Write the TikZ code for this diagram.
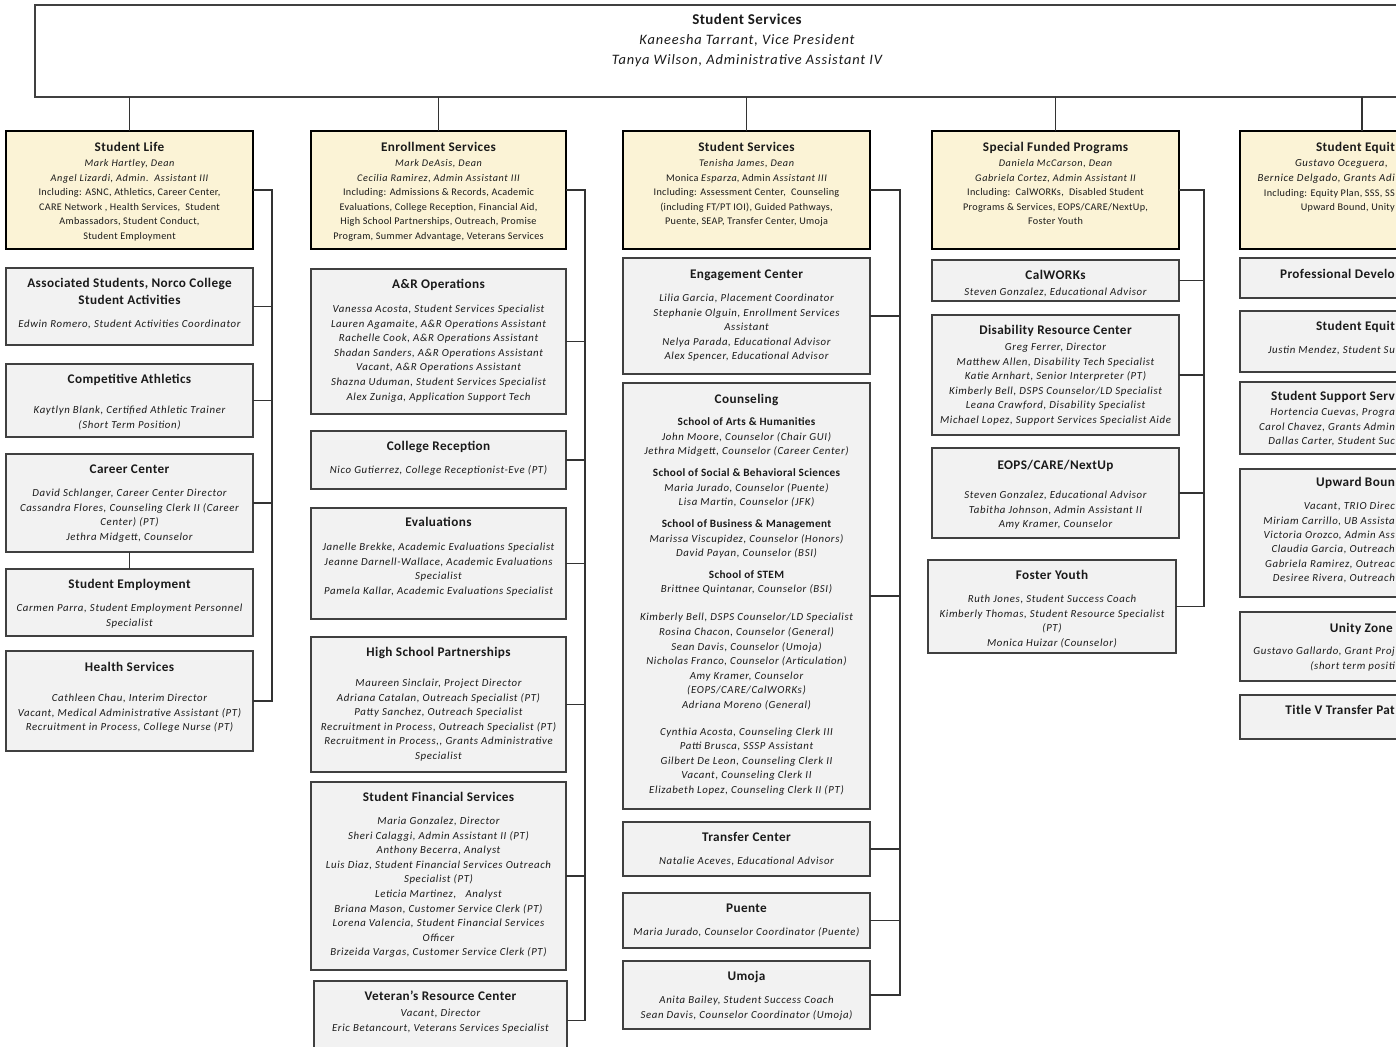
\documentclass[tikz,border=0pt]{standalone}
\usepackage{fontspec}
\setmainfont[LetterSpace=3]{Carlito}
\newfontfamily\lsi[LetterSpace=6]{Carlito}
\usetikzlibrary{calc}
\definecolor{hdrfill}{HTML}{FBF3D6}
\definecolor{subfill}{HTML}{F2F2F2}
\definecolor{txt}{HTML}{1A1A1A}
\definecolor{edge}{HTML}{404040}
\newcommand\ii{\lsi\itshape}
\newcommand\sh{\rmfamily\upshape\bfseries\fontsize{11.2}{14.6}\selectfont}
\newcommand\bx[6]{\node[#6, anchor=north west, minimum width={(#4)-(#2)}, minimum height={(#5)-(#3)}] (#1) at (#2,#3) {};}
\newcommand\tx[5]{\node[#4] (#1) at (#2,{#3+3.5}) {\begin{tabular}[t]{@{}c@{}}#5\end{tabular}};}
\newcommand\tl[5]{\node[#4] (#1) at (#2,{#3+3.5}) {#5};}
\begin{document}
\begin{tikzpicture}[x=1pt,y=-1pt,
  hdr/.style={draw=black, line width=1.4pt, fill=hdrfill, inner sep=0, outer sep=0},
  sub/.style={draw=edge, line width=1.1pt, fill=subfill, inner sep=0, outer sep=0},
  topbox/.style={draw=edge, line width=1.1pt, fill=white, inner sep=0, outer sep=0},
  conn/.style={draw=black!80, line width=1.1pt},
  ttl/.style={font=\fontsize{13.2}{14.6}\selectfont\bfseries, anchor=base, inner sep=0, text=txt},
  ttlb/.style={font=\fontsize{13.2}{17}\selectfont\bfseries, anchor=base, inner sep=0, text=txt},
  bdy/.style={font=\ii\fontsize{10.8}{14.6}\selectfont, anchor=base, inner sep=0, text=txt},
  hbdy/.style={font=\fontsize{10.2}{14.6}\selectfont, anchor=base, inner sep=0, text=txt},
  cutt/.style={font=\fontsize{13.2}{14.6}\selectfont\bfseries, anchor=base east, inner sep=0, text=txt},
  cuti/.style={font=\ii\fontsize{10.8}{14.6}\selectfont, anchor=base east, inner sep=0, text=txt},
  cutr/.style={font=\fontsize{10.2}{14.6}\selectfont, anchor=base east, inner sep=0, text=txt},
  vptl/.style={font=\fontsize{15}{20}\selectfont\bfseries, anchor=base, inner sep=0, text=txt},
  vpbd/.style={font=\ii\fontsize{14.4}{20}\selectfont, anchor=base, inner sep=0, text=txt}
]
\useasboundingbox (0,0) rectangle (1396,1046);
\fill[white] (0,0) rectangle (1396,1046);
\clip (0,0) rectangle (1396,1046);

% ---------- top box ----------
\bx{vp}{35}{5}{1459}{97}{topbox}
\tx{vp-t}{747}{21}{vptl}{Student Services}
\tx{vp-b}{747}{41}{vpbd}{Kaneesha Tarrant, Vice President\\Tanya Wilson, Administrative Assistant IV}

% ---------- column 1 ----------
\bx{sl}{6}{131}{253}{249}{hdr}
\tx{sl-t}{129.5}{148}{ttl}{Student Life}
\tx{sl-b}{129.5}{163}{hbdy}{{\ii Mark Hartley, Dean}\\{\ii Angel Lizardi, Admin.\ \ Assistant III}\\Including: ASNC, Athletics, Career Center,\\CARE Network , Health Services,\ \ Student\\Ambassadors, Student Conduct,\\Student Employment}

\bx{as}{6}{268}{253}{345}{sub}
\tx{as-t}{129.5}{284}{ttlb}{Associated Students, Norco College\\Student Activities}
\tx{as-b}{129.5}{324}{bdy}{Edwin Romero, Student Activities Coordinator}

\bx{ca}{6}{364}{253}{437}{sub}
\tx{ca-t}{129.5}{380}{ttl}{Competitive Athletics}
\tx{ca-b}{129.5}{410}{bdy}{Kaytlyn Blank, Certified Athletic Trainer\\(Short Term Position)}

\bx{cc}{6}{454}{253}{552}{sub}
\tx{cc-t}{129.5}{470}{ttl}{Career Center}
\tx{cc-b}{129.5}{493}{bdy}{David Schlanger, Career Center Director\\Cassandra Flores, Counseling Clerk II (Career\\Center) (PT)\\Jethra Midgett, Counselor}

\bx{se}{6}{569}{253}{636}{sub}
\tx{se-t}{129.5}{585}{ttl}{Student Employment}
\tx{se-b}{129.5}{608}{bdy}{Carmen Parra, Student Employment Personnel\\Specialist}

\bx{hs}{6}{651}{253}{751}{sub}
\tx{hs-t}{129.5}{668}{ttl}{Health Services}
\tx{hs-b}{129.5}{698}{bdy}{Cathleen Chau, Interim Director\\Vacant, Medical Administrative Assistant (PT)\\Recruitment in Process, College Nurse (PT)}

% ---------- column 2 ----------
\bx{es}{311}{131}{566}{249}{hdr}
\tx{es-t}{438.5}{148}{ttl}{Enrollment Services}
\tx{es-b}{438.5}{163}{hbdy}{{\ii Mark DeAsis, Dean}\\{\ii Cecilia Ramirez, Admin Assistant III}\\Including: Admissions \& Records, Academic\\Evaluations, College Reception, Financial Aid,\\High School Partnerships, Outreach, Promise\\Program, Summer Advantage, Veterans Services}

\bx{ar}{311}{269}{566}{414}{sub}
\tx{ar-t}{438.5}{285}{ttl}{A\&R Operations}
\tx{ar-b}{438.5}{309}{bdy}{Vanessa Acosta, Student Services Specialist\\Lauren Agamaite, A\&R Operations Assistant\\Rachelle Cook, A\&R Operations Assistant\\Shadan Sanders, A\&R Operations Assistant\\Vacant, A\&R Operations Assistant\\Shazna Uduman, Student Services Specialist\\Alex Zuniga, Application Support Tech}

\bx{cr}{311}{431}{566}{489}{sub}
\tx{cr-t}{438.5}{447}{ttl}{College Reception}
\tx{cr-b}{438.5}{470}{bdy}{Nico Gutierrez, College Receptionist-Eve (PT)}

\bx{ev}{311}{508}{566}{619}{sub}
\tx{ev-t}{438.5}{523}{ttl}{Evaluations}
\tx{ev-b}{438.5}{547}{bdy}{Janelle Brekke, Academic Evaluations Specialist\\Jeanne Darnell-Wallace, Academic Evaluations\\Specialist\\Pamela Kallar, Academic Evaluations Specialist}

\bx{hp}{311}{637}{566}{772}{sub}
\tx{hp-t}{438.5}{653}{ttl}{High School Partnerships}
\tx{hp-b}{438.5}{683}{bdy}{Maureen Sinclair, Project Director\\Adriana Catalan, Outreach Specialist (PT)\\Patty Sanchez, Outreach Specialist\\Recruitment in Process, Outreach Specialist (PT)\\Recruitment in Process,, Grants Administrative\\Specialist}

\bx{fs}{311}{782}{566}{970}{sub}
\tx{fs-t}{438.5}{798}{ttl}{Student Financial Services}
\tx{fs-b}{438.5}{821}{bdy}{Maria Gonzalez, Director\\Sheri Calaggi, Admin Assistant II (PT)\\Anthony Becerra, Analyst\\Luis Diaz, Student Financial Services Outreach\\Specialist (PT)\\Leticia Martinez,\ \ \ Analyst\\Briana Mason, Customer Service Clerk (PT)\\Lorena Valencia, Student Financial Services\\Officer\\Brizeida Vargas, Customer Service Clerk (PT)}

\bx{vr}{314}{981}{567}{1060}{sub}
\tx{vr-t}{440.5}{997}{ttl}{Veteran’s Resource Center}
\tx{vr-b}{440.5}{1013}{bdy}{Vacant, Director\\Eric Betancourt, Veterans Services Specialist}

% ---------- column 3 ----------
\bx{ss}{623}{131}{870}{249}{hdr}
\tx{ss-t}{746.5}{148}{ttl}{Student Services}
\tx{ss-b}{746.5}{163}{hbdy}{{\ii Tenisha James, Dean}\\Monica {\ii Esparza}, Admin {\ii Assistant III}\\Including: Assessment Center,\ \ Counseling\\(including FT/PT IOI), Guided Pathways,\\Puente, SEAP, Transfer Center, Umoja}

\bx{ec}{623}{258}{870}{374}{sub}
\tx{ec-t}{746.5}{275}{ttl}{Engagement Center}
\tx{ec-b}{746.5}{298}{bdy}{Lilia Garcia, Placement Coordinator\\Stephanie Olguin, Enrollment Services\\Assistant\\Nelya Parada, Educational Advisor\\Alex Spencer, Educational Advisor}

\bx{co}{623}{383}{870}{809}{sub}
\tx{co-t}{746.5}{400}{ttl}{Counseling}
\tx{co-b}{746.5}{422}{bdy}{{\sh School of Arts \& Humanities}\\John Moore, Counselor (Chair GUI)\\Jethra Midgett, Counselor (Career Center)\\[7.4pt]{\sh School of Social \& Behavioral Sciences}\\Maria Jurado, Counselor (Puente)\\Lisa Martin, Counselor (JFK)\\[7pt]{\sh School of Business \& Management}\\Marissa Viscupidez, Counselor (Honors)\\David Payan, Counselor (BSI)\\[7pt]{\sh School of STEM}\\Brittnee Quintanar, Counselor (BSI)\\[13.4pt]Kimberly Bell, DSPS Counselor/LD Specialist\\Rosina Chacon, Counselor (General)\\Sean Davis, Counselor (Umoja)\\Nicholas Franco, Counselor (Articulation)\\Amy Kramer, Counselor\\(EOPS/CARE/CalWORKs)\\Adriana Moreno (General)\\[12pt]Cynthia Acosta, Counseling Clerk III\\Patti Brusca, SSSP Assistant\\Gilbert De Leon, Counseling Clerk II\\Vacant, Counseling Clerk II\\Elizabeth Lopez, Counseling Clerk II (PT)}

\bx{tc}{623}{822}{870}{876}{sub}
\tx{tc-t}{746.5}{838}{ttl}{Transfer Center}
\tx{tc-b}{746.5}{861}{bdy}{Natalie Aceves, Educational Advisor}

\bx{pu}{623}{893}{870}{948}{sub}
\tx{pu-t}{746.5}{909}{ttl}{Puente}
\tx{pu-b}{746.5}{932}{bdy}{Maria Jurado, Counselor Coordinator (Puente)}

\bx{um}{623}{961}{870}{1029}{sub}
\tx{um-t}{746.5}{977}{ttl}{Umoja}
\tx{um-b}{746.5}{1000}{bdy}{Anita Bailey, Student Success Coach\\Sean Davis, Counselor Coordinator (Umoja)}

% ---------- column 4 ----------
\bx{sf}{932}{131}{1179}{249}{hdr}
\tx{sf-t}{1055.5}{148}{ttl}{Special Funded Programs}
\tx{sf-b}{1055.5}{163}{hbdy}{{\ii Daniela McCarson, Dean}\\{\ii Gabriela Cortez, Admin Assistant II}\\Including:\ \ CalWORKs,\ \ Disabled Student\\Programs \& Services, EOPS/CARE/NextUp,\\Foster Youth}

\bx{cw}{932}{260}{1179}{301}{sub}
\tx{cw-t}{1055.5}{276}{ttl}{CalWORKs}
\tx{cw-b}{1055.5}{292}{bdy}{Steven Gonzalez, Educational Advisor}

\bx{dr}{932}{315}{1179}{435}{sub}
\tx{dr-t}{1055.5}{331}{ttl}{Disability Resource Center}
\tx{dr-b}{1055.5}{347}{bdy}{Greg Ferrer, Director\\Matthew Allen, Disability Tech Specialist\\Katie Arnhart, Senior Interpreter (PT)\\Kimberly Bell, DSPS Counselor/LD Specialist\\Leana Crawford, Disability Specialist\\Michael Lopez, Support Services Specialist Aide}

\bx{eo}{932}{448}{1179}{538}{sub}
\tx{eo-t}{1055.5}{466}{ttl}{EOPS/CARE/NextUp}
\tx{eo-b}{1055.5}{495}{bdy}{Steven Gonzalez, Educational Advisor\\Tabitha Johnson, Admin Assistant II\\Amy Kramer, Counselor}

\bx{fy}{928}{560}{1176}{653}{sub}
\tx{fy-t}{1052}{576}{ttl}{Foster Youth}
\tx{fy-b}{1052}{599}{bdy}{Ruth Jones, Student Success Coach\\Kimberly Thomas, Student Resource Specialist\\(PT)\\Monica Huizar (Counselor)}

% ---------- column 5 (cut by page edge) ----------
\bx{eq}{1240}{131}{1484}{249}{hdr}
\tl{eq-t}{1395}{148}{cutt}{Student Equit}
\tl{eq-1}{1388}{163}{cuti}{Gustavo Oceguera,}
\tl{eq-2}{1395}{178}{cuti}{Bernice Delgado, Grants Adi}
\tl{eq-3}{1395}{193}{cutr}{Including: Equity Plan, SSS, SS}
\tl{eq-4}{1395}{207}{cutr}{Upward Bound, Unity}

\bx{pd}{1240}{258}{1484}{298}{sub}
\tl{pd-t}{1395}{275}{cutt}{Professional Develo}

\bx{sq}{1240}{311}{1484}{372}{sub}
\tl{sq-t}{1395}{327}{cutt}{Student Equit}
\tl{sq-1}{1395}{350}{cuti}{Justin Mendez, Student Su}

\bx{sp}{1240}{382}{1484}{454}{sub}
\tl{sp-t}{1395}{397}{cutt}{Student Support Serv}
\tl{sp-1}{1395}{412}{cuti}{Hortencia Cuevas, Progra}
\tl{sp-2}{1395}{427}{cuti}{Carol Chavez, Grants Admin}
\tl{sp-3}{1395}{441}{cuti}{Dallas Carter, Student Suc}

\bx{ub}{1240}{469}{1484}{597}{sub}
\tl{ub-t}{1395}{483}{cutt}{Upward Boun}
\tl{ub-1}{1395}{506}{cuti}{Vacant, TRIO Direc}
\tl{ub-2}{1395}{521}{cuti}{Miriam Carrillo, UB Assista}
\tl{ub-3}{1395}{535}{cuti}{Victoria Orozco, Admin Ass}
\tl{ub-4}{1395}{549}{cuti}{Claudia Garcia, Outreach}
\tl{ub-5}{1395}{564}{cuti}{Gabriela Ramirez, Outreac}
\tl{ub-6}{1395}{578}{cuti}{Desiree Rivera, Outreach}

\bx{uz}{1240}{612}{1484}{681}{sub}
\tl{uz-t}{1393}{629}{cutt}{Unity Zone}
\tl{uz-1}{1395}{651}{cuti}{Gustavo Gallardo, Grant Proj}
\tl{uz-2}{1395}{666}{cuti}{(short term positi}

\bx{tv}{1240}{695}{1484}{739}{sub}
\tl{tv-t}{1395}{711}{cutt}{Title V Transfer Pat}

% ---------- connectors ----------
\foreach \n in {sl,es,ss,sf,eq} \draw[conn] (vp.south -| \n.north) -- (\n.north);

\coordinate (b1) at (272,0);
\draw[conn] (sl.east) -- (sl.east -| b1) -- (hs.east -| b1) -- (hs.east);
\foreach \n in {as,ca,cc} \draw[conn] (\n.east) -- (\n.east -| b1);
\draw[conn] (cc.south) -- (se.north);

\coordinate (b2) at (585,0);
\draw[conn] (es.east) -- (es.east -| b2) -- (vr.east -| b2) -- (vr.east);
\foreach \n in {ar,cr,ev,hp,fs} \draw[conn] (\n.east) -- (\n.east -| b2);

\coordinate (b3) at (900,0);
\draw[conn] (ss.east) -- (ss.east -| b3) -- (um.east -| b3) -- (um.east);
\foreach \n in {ec,co,tc,pu} \draw[conn] (\n.east) -- (\n.east -| b3);

\coordinate (b4) at (1204,0);
\draw[conn] (sf.east) -- (sf.east -| b4) -- (fy.east -| b4) -- (fy.east);
\foreach \n in {cw,dr,eo} \draw[conn] (\n.east) -- (\n.east -| b4);
\end{tikzpicture}
\end{document}
